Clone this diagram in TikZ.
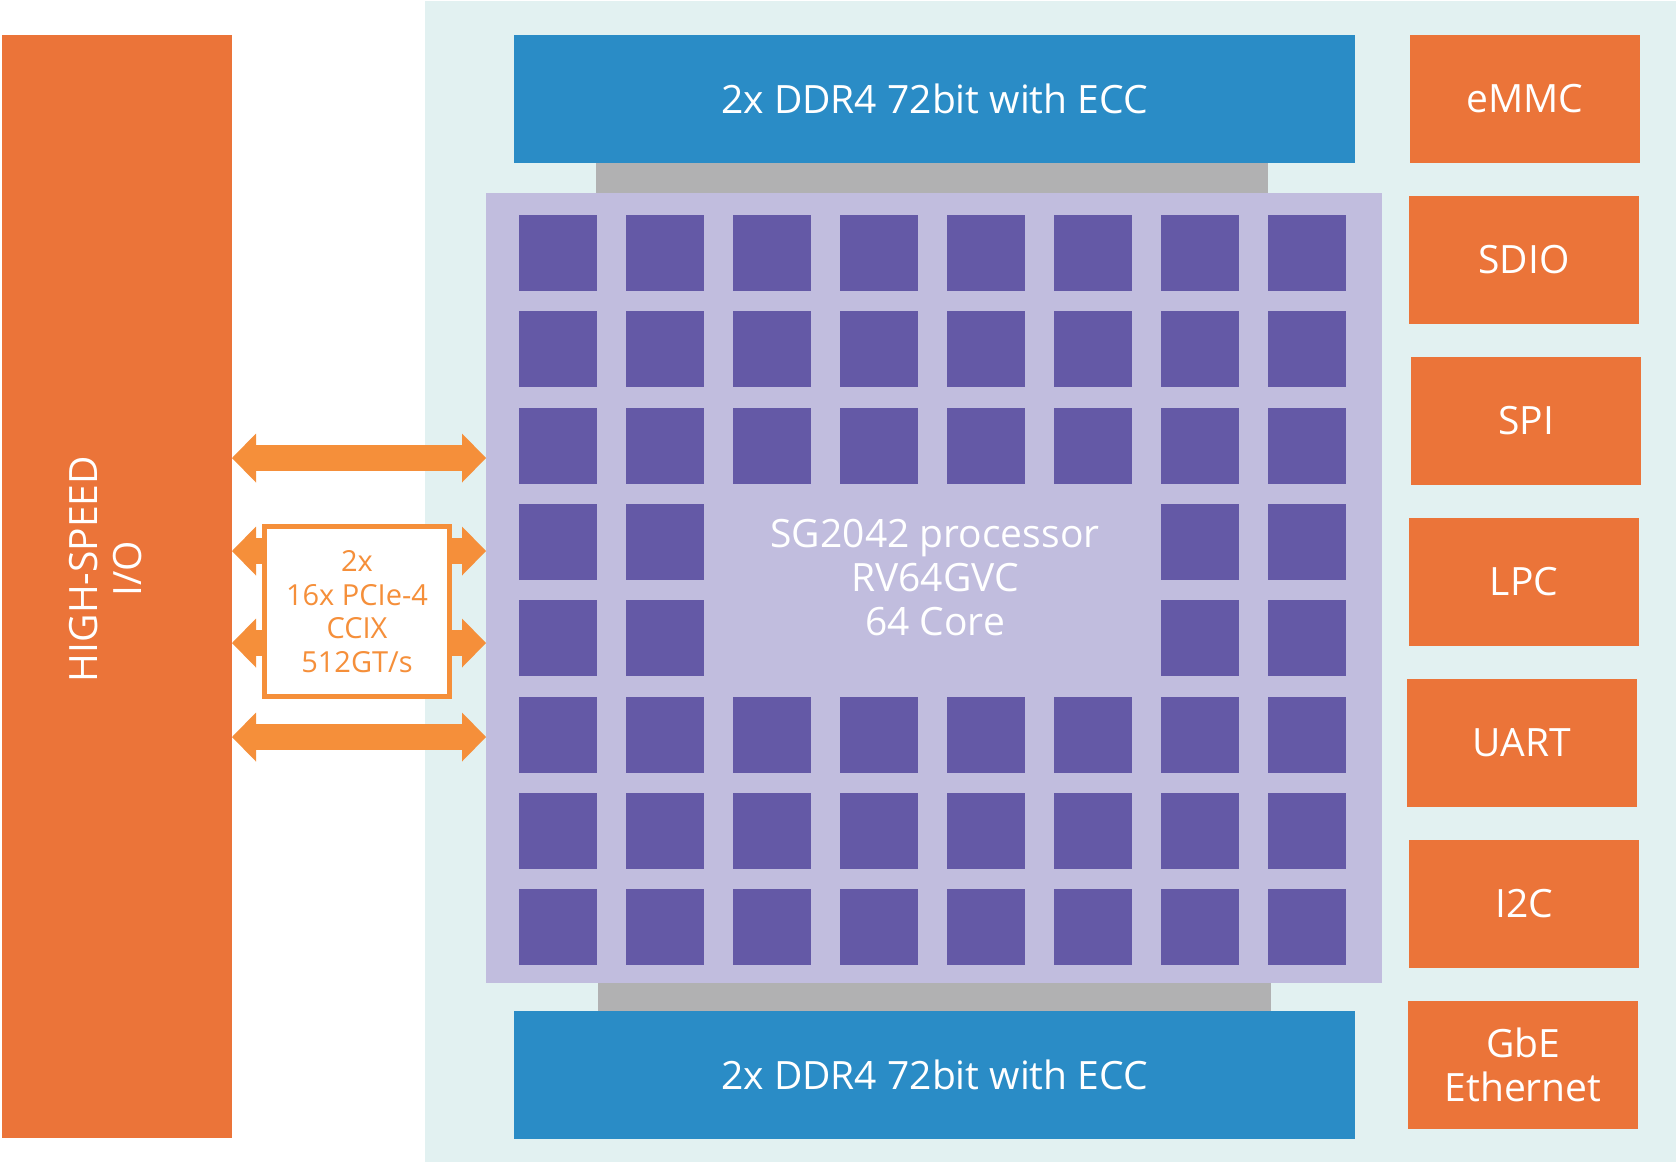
\documentclass[tikz,border=0pt]{standalone}
\usepackage{fontspec}
\setmainfont{Open Sans}
\usetikzlibrary{arrows.meta}
\definecolor{bgc}{HTML}{E2F1F1}
\definecolor{orangebar}{HTML}{EB7439}
\definecolor{arroworange}{HTML}{F58F3A}
\definecolor{ddrblue}{HTML}{2A8CC6}
\definecolor{busgray}{HTML}{B1B1B2}
\definecolor{chiplav}{HTML}{C1BDDE}
\definecolor{corepurple}{HTML}{6459A6}
\tikzset{
  blockbox/.style={inner sep=0pt, outer sep=0pt, draw=none, align=center, text=white,
    font=\fontsize{39}{44}\selectfont},
  periph/.style={blockbox, fill=orangebar, minimum width=230pt, minimum height=128pt},
  ddrbox/.style={blockbox, fill=ddrblue, minimum width=841pt, minimum height=128pt},
  corebox/.style={inner sep=0pt, outer sep=0pt, fill=corepurple, minimum width=78pt, minimum height=76pt, anchor=north west},
  busbar/.style={inner sep=0pt, outer sep=0pt, fill=busgray},
  linkarrow/.style={draw=arroworange, line width=26pt,
    {Triangle[width=49pt 0, length=24pt 0, line width=0pt]}-{Triangle[width=49pt 0, length=24pt 0, line width=0pt]}},
  pciebox/.style={draw=arroworange, line width=5pt, fill=white, inner sep=0pt, outer sep=0pt,
    minimum width=185pt, minimum height=170pt, align=center, text=arroworange,
    font=\fontsize{29}{33.6}\selectfont}
}
\begin{document}
\begin{tikzpicture}[x=1pt, y=-1pt]
\useasboundingbox (0,0) rectangle (1677,1163);
\fill[white] (0,0) rectangle (1677,1163);
% background panel
\node[inner sep=0pt, fill=bgc, minimum width=1251pt, minimum height=1161pt] (panel) at (1050.5,581.5) {};
% high-speed IO bar
\node[inner sep=0pt, outer sep=0pt, fill=orangebar, minimum width=230pt, minimum height=1103pt] (io) at (117,586.5) {};
\node[text=white, align=center, rotate=90, font=\fontsize{39}{44}\selectfont, inner sep=0pt] (iolabel) at (106,569) {HIGH-SPEED\\I/O};
% memory buses
\node[busbar, minimum width=672pt, minimum height=30pt] (bustop) at (932,178) {};
\node[busbar, minimum width=673pt, minimum height=28pt] (busbot) at (934.5,997) {};
% DDR
\node[ddrbox] (ddrtop) at (934.5,99) {2x DDR4 72bit with ECC};
\node[ddrbox] (ddrbot) at (934.5,1075) {2x DDR4 72bit with ECC};
% chip
\node[inner sep=0pt, outer sep=0pt, fill=chiplav, minimum width=896pt, minimum height=790pt] (chip) at (934,588) {};
\foreach \i in {0,...,7}{
  \foreach \j in {0,...,7}{
    \pgfmathtruncatemacro{\skipcore}{(\j==3 || \j==4) && (\i>=2 && \i<=5) ? 1 : 0}
    \ifnum\skipcore=0
      \node[corebox] (core-\i-\j) at ({519+107*\i},{215+96.3*\j}) {};
    \fi
  }
}
\node[text=white, align=center, font=\fontsize{39}{44}\selectfont, inner sep=0pt] (chiplabel) at (935,578) {SG2042 processor\\RV64GVC\\64 Core};
% peripherals
\node[periph] (emmc) at (1525,99) {eMMC};
\node[periph] (sdio) at (1524,260) {SDIO};
\node[periph] (spi) at (1526,421) {SPI};
\node[periph] (lpc) at (1524,582) {LPC};
\node[periph] (uart) at (1522,743) {UART};
\node[periph] (i2c) at (1524,904) {I2C};
\node[periph] (gbe) at (1523,1065) {GbE\\Ethernet};
% links
\draw[linkarrow] (io.east |- 0,458) -- (chip.west |- 0,458);
\draw[linkarrow] (io.east |- 0,551) -- (chip.west |- 0,551);
\draw[linkarrow] (io.east |- 0,643) -- (chip.west |- 0,643);
\draw[linkarrow] (io.east |- 0,737) -- (chip.west |- 0,737);
\node[pciebox] (pcie) at (357,611.5) {2x\\16x PCIe-4\\CCIX\\512GT/s};
\end{tikzpicture}
\end{document}
